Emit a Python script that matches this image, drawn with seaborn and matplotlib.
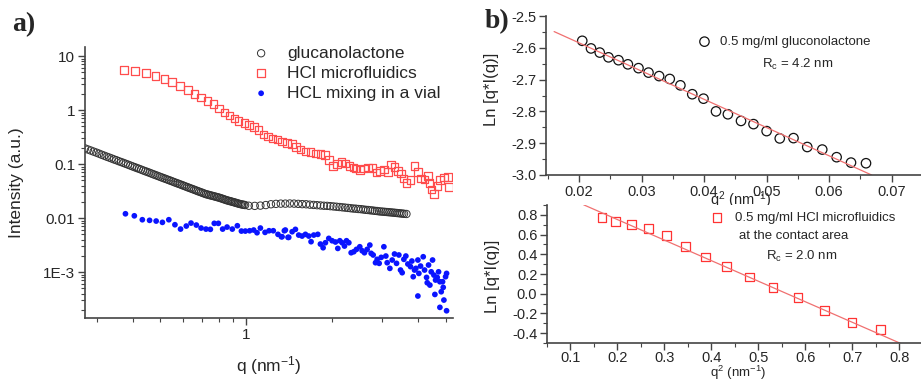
import numpy as np
import pandas as pd
import matplotlib
matplotlib.use('Agg')
import matplotlib.pyplot as plt
import seaborn as sns
from matplotlib.ticker import (FixedLocator, FixedFormatter, NullFormatter,
                               MultipleLocator, FormatStrFormatter)

# ── panel a: SAXS curves ─────────────────────────────────────
gluc_q = [0.272, 0.2785, 0.285, 0.2915, 0.298, 0.3045, 0.311, 0.3175, 0.324, 0.3305,
          0.337, 0.3435, 0.350, 0.357, 0.364, 0.371, 0.378, 0.385, 0.392, 0.399,
          0.406, 0.413, 0.420, 0.4275, 0.435, 0.4425, 0.450, 0.4575, 0.465, 0.4725,
          0.480, 0.488, 0.496, 0.504, 0.512, 0.520, 0.528, 0.536, 0.544, 0.5525,
          0.561, 0.5695, 0.578, 0.5865, 0.595, 0.6035, 0.612, 0.621, 0.630, 0.639,
          0.648, 0.657, 0.666, 0.675, 0.684, 0.6935, 0.703, 0.7125, 0.722, 0.7315,
          0.741, 0.7505, 0.760, 0.770, 0.780, 0.790, 0.800, 0.810, 0.820, 0.830,
          0.840, 0.8505, 0.861, 0.8715, 0.882, 0.8925, 0.903, 0.9135, 0.924, 0.935,
          0.946, 0.957, 0.968, 0.979, 0.990,
          1.02, 1.07, 1.12, 1.17, 1.22, 1.27, 1.32, 1.37, 1.42, 1.47, 1.52, 1.57,
          1.62, 1.67, 1.72, 1.77, 1.82, 1.87, 1.92, 1.97, 2.02, 2.07, 2.12, 2.17,
          2.22, 2.27, 2.32, 2.37, 2.42, 2.47, 2.52, 2.57, 2.62, 2.67, 2.72, 2.77,
          2.82, 2.87, 2.92, 2.97, 3.02, 3.07, 3.12, 3.17, 3.22, 3.27, 3.32, 3.37,
          3.42, 3.47, 3.52, 3.57, 3.64]
gluc_I = [0.195, 0.186, 0.178, 0.170, 0.163, 0.156, 0.149, 0.143, 0.137, 0.132,
          0.127, 0.122, 0.118, 0.113, 0.109, 0.105, 0.101, 0.0974, 0.0939, 0.0906,
          0.0875, 0.0846, 0.0818, 0.0790, 0.0762, 0.0737, 0.0713, 0.0690, 0.0667, 0.0646,
          0.0626, 0.0606, 0.0586, 0.0568, 0.0550, 0.0534, 0.0518, 0.0503, 0.0488, 0.0473,
          0.0458, 0.0445, 0.0432, 0.0420, 0.0408, 0.0396, 0.0385, 0.0374, 0.0363, 0.0353,
          0.0344, 0.0334, 0.0325, 0.0316, 0.0308, 0.0300, 0.0292, 0.0284, 0.0277, 0.0272,
          0.0267, 0.0262, 0.0258, 0.0253, 0.0249, 0.0244, 0.0240, 0.0235, 0.0230, 0.0225,
          0.0220, 0.0215, 0.0211, 0.0207, 0.0204, 0.0200, 0.0197, 0.0193, 0.0190, 0.0186,
          0.0183, 0.0180, 0.0178, 0.0176, 0.0174,
          0.0169, 0.0168, 0.0170, 0.0174, 0.0180, 0.0183, 0.0185, 0.0185, 0.0186, 0.0185,
          0.0183, 0.0181, 0.0180, 0.0177, 0.0175, 0.0173, 0.0171, 0.0169, 0.0168, 0.0166,
          0.0164, 0.0162, 0.0160, 0.0158, 0.0156, 0.0154, 0.0152, 0.0150, 0.0149, 0.0147,
          0.0146, 0.0144, 0.0142, 0.0141, 0.0139, 0.0138, 0.0136, 0.0135, 0.0133, 0.0132,
          0.0131, 0.0130, 0.0129, 0.0128, 0.0127, 0.0126, 0.0125, 0.0124, 0.0123, 0.0122,
          0.0121, 0.0120, 0.0119]

micro_q = [0.372, 0.408, 0.445, 0.480, 0.516, 0.550, 0.586, 0.624, 0.659, 0.693,
           0.730, 0.766, 0.802, 0.839, 0.874, 0.910, 0.940, 0.984, 1.024, 1.064,
           1.104, 1.147, 1.191, 1.237, 1.285, 1.334, 1.389, 1.446, 1.493, 1.546,
           1.610, 1.677, 1.746, 1.818, 1.883, 1.945, 2.009, 2.081, 2.154, 2.225,
           2.297, 2.378, 2.41, 2.50, 2.58, 2.666, 2.77, 2.86, 2.94, 3.03,
           3.13, 3.22, 3.31, 3.40, 3.49, 3.56, 3.64, 3.76, 3.88, 3.99,
           4.10, 4.21, 4.33, 4.38, 4.45, 4.54, 4.67, 4.77, 4.92, 5.09, 5.14]
micro_I = [5.57, 5.27, 4.79, 4.32, 3.75, 3.30, 2.78, 2.35, 2.00, 1.72,
           1.47, 1.28, 1.07, 0.906, 0.797, 0.702, 0.625, 0.582, 0.535, 0.491,
           0.427, 0.355, 0.321, 0.299, 0.287, 0.263, 0.248, 0.234, 0.209, 0.187,
           0.172, 0.165, 0.158, 0.153, 0.147, 0.119, 0.0918, 0.100, 0.109, 0.103,
           0.0918, 0.0869, 0.0833, 0.0774, 0.0833, 0.0869, 0.0843, 0.0702, 0.0751, 0.0797,
           0.0711, 0.0987, 0.0891, 0.0751, 0.0673, 0.0543, 0.0451, 0.0505, 0.0918, 0.0720,
           0.0543, 0.0521, 0.0600, 0.0440, 0.0340, 0.0278, 0.0392, 0.0505, 0.0567, 0.0582, 0.0380]

vial_q = [0.377, 0.405, 0.432, 0.458, 0.483, 0.508, 0.535, 0.562, 0.588, 0.616,
          0.640, 0.668, 0.694, 0.722, 0.748, 0.772, 0.798, 0.826, 0.856, 0.893,
          0.930, 0.961, 0.992, 1.027, 1.061, 1.090, 1.120, 1.163, 1.201, 1.243,
          1.291, 1.327, 1.359, 1.400,
          1.334, 1.370, 1.408, 1.447, 1.486, 1.526, 1.568, 1.611, 1.655, 1.686,
          1.723, 1.780, 1.818, 1.858, 1.893, 1.945, 1.998, 2.053, 2.092, 2.126,
          2.167, 2.208, 2.244, 2.287, 2.330, 2.380, 2.432, 2.498, 2.546, 2.594,
          2.651, 2.709, 2.738, 2.783, 2.836, 2.874, 2.921, 2.969, 3.034, 3.083,
          3.116, 3.184, 3.245, 3.306, 3.360, 3.424, 3.470, 3.517, 3.565, 3.623,
          3.682, 3.762, 3.803, 3.845, 3.886, 3.928, 3.992, 4.024, 4.079, 4.168,
          4.213, 4.282, 4.351, 4.398, 4.446, 4.494, 4.543, 4.604, 4.667, 4.717,
          4.768, 4.820, 4.872, 4.925, 4.991, 5.032, 3.992, 4.579, 4.768, 5.032,
          4.898, 4.305]
vial_I = [0.0120, 0.0110, 0.00931, 0.00907, 0.00880, 0.00832, 0.00931, 0.00752, 0.00625, 0.00711,
          0.00807, 0.00742, 0.00653, 0.00625, 0.00618, 0.00798, 0.00798, 0.00625, 0.00681, 0.00625,
          0.00720, 0.00574, 0.00574, 0.00582, 0.00600, 0.00535, 0.00653, 0.00543, 0.00582, 0.00582,
          0.00499, 0.00451, 0.00582, 0.00439,
          0.00451, 0.00600, 0.00439, 0.00558, 0.00617, 0.00484, 0.00464, 0.00499, 0.00464, 0.00365,
          0.00484, 0.00499, 0.00330, 0.00282, 0.00349, 0.00420, 0.00380, 0.00360, 0.00274, 0.00380,
          0.00349, 0.00303, 0.00380, 0.00349, 0.00228, 0.00238, 0.00263, 0.00294, 0.00248, 0.00228,
          0.00263, 0.00316, 0.00222, 0.00207, 0.00149, 0.00172, 0.00145, 0.00187, 0.00294, 0.00198,
          0.00149, 0.00117, 0.00167, 0.00216, 0.00145, 0.00207, 0.00109, 0.000973, 0.00172, 0.00198,
          0.00141, 0.00126, 0.00160, 0.000820, 0.00109, 0.00117, 0.00167, 0.000944, 0.00129, 0.00192,
          0.00109, 0.000796, 0.00135, 0.000574, 0.00101, 0.00167, 0.000879, 0.000711, 0.000796, 0.00101,
          0.000662, 0.000432, 0.000662, 0.000303, 0.000820, 0.000944, 0.000360, 0.000385, 0.000222, 0.000192,
          0.000520, 0.000634]

a_yticks = [1e-3, 1e-2, 0.1, 1, 10]
a_yticklabels = ['1E-3', '0.01', '0.1', '1', '10']

# ── panel b: Guinier (rod) plots ─────────────────────────────
gl_q2 = [0.0205, 0.0219, 0.0233, 0.0247, 0.0263, 0.0278, 0.0295, 0.0311, 0.0328, 0.0345,
         0.0362, 0.0381, 0.0399, 0.0419, 0.0438, 0.0459, 0.0479, 0.0500, 0.0521, 0.0543,
         0.0565, 0.0589, 0.0612, 0.0635, 0.0659]
gl_lnqI = [-2.578, -2.602, -2.615, -2.630, -2.639, -2.652, -2.664, -2.678, -2.689, -2.698,
           -2.718, -2.746, -2.760, -2.800, -2.809, -2.830, -2.840, -2.862, -2.885, -2.884,
           -2.912, -2.920, -2.944, -2.961, -2.963]
gl_fit_x = [0.0160, 0.0668]
gl_fit_y = [-2.549, -3.0]

hcl_q2 = [0.167, 0.196, 0.230, 0.266, 0.304, 0.345, 0.387, 0.432, 0.481, 0.531,
          0.584, 0.640, 0.699, 0.759]
hcl_lnqI = [0.776, 0.736, 0.702, 0.658, 0.587, 0.478, 0.373, 0.278, 0.169, 0.061,
            -0.037, -0.169, -0.292, -0.360]
hcl_fit_x = [0.128, 0.803]
hcl_fit_y = [0.902, -0.505]

sns.set_style("ticks")
plt.rcParams['font.family'] = ['Liberation Sans', 'DejaVu Sans']
plt.rcParams['mathtext.default'] = 'regular'
plt.rcParams['axes.unicode_minus'] = False

W, H = 921, 383
fig = plt.figure(figsize=(W / 100, H / 100), dpi=100)


def box(l, t, r, b):
    return [l / W, 1 - b / H, (r - l) / W, (b - t) / H]


ax_a = fig.add_axes(box(85, 47, 453, 318))
ax_t = fig.add_axes(box(546, 16, 921, 175))
ax_b = fig.add_axes(box(547, 205, 921, 343))

spine_col = '#444444'
for ax in (ax_a, ax_t, ax_b):
    sns.despine(ax=ax)
    for s in ('left', 'bottom'):
        ax.spines[s].set_color(spine_col)
        ax.spines[s].set_linewidth(1.2)
    ax.tick_params(which='major', direction='out', length=5, width=1,
                   color=spine_col, labelsize=10.5, pad=2)
    ax.tick_params(which='minor', direction='out', length=3, width=0.8,
                   color=spine_col)

# ── panel a ──
sns.scatterplot(x=gluc_q, y=gluc_I, ax=ax_a, marker='o', s=28,
                facecolor='none', edgecolor='#333333', linewidth=0.7,
                label='glucanolactone')
sns.scatterplot(x=micro_q, y=micro_I, ax=ax_a, marker='s', s=30,
                facecolor='none', edgecolor='#ff4c4c', linewidth=0.9,
                label='HCl microfluidics')
sns.scatterplot(x=vial_q, y=vial_I, ax=ax_a, marker='o', s=17,
                color='#0a14ff', edgecolor='none', linewidth=0,
                label='HCL mixing in a vial')
ax_a.set_xscale('log')
ax_a.set_yscale('log')
ax_a.set_xlim(0.272, 5.3)
ax_a.set_ylim(1.41e-4, 14.7)
ax_a.yaxis.set_major_locator(FixedLocator(a_yticks))
ax_a.yaxis.set_major_formatter(FixedFormatter(a_yticklabels))
ax_a.yaxis.set_minor_locator(FixedLocator(
    [m * 10.0 ** e for e in range(-4, 2) for m in range(2, 10)]))
ax_a.yaxis.set_minor_formatter(NullFormatter())
ax_a.xaxis.set_major_locator(FixedLocator([1]))
ax_a.xaxis.set_major_formatter(FixedFormatter(['1']))
ax_a.xaxis.set_minor_locator(FixedLocator([0.3, 0.4, 0.5, 0.6, 0.7, 0.8, 0.9, 2, 3, 4, 5]))
ax_a.xaxis.set_minor_formatter(NullFormatter())
ax_a.tick_params(axis='both', labelsize=11)
ax_a.set_xlabel('q (nm$^{-1}$)', fontsize=12.5, labelpad=9)
ax_a.set_ylabel('Intensity (a.u.)', fontsize=12.5, labelpad=14)
ax_a.legend(loc='upper left', bbox_to_anchor=(0.455, 1.005), frameon=False,
            fontsize=12.5, handlelength=1.0, handletextpad=1.0,
            labelspacing=0.28, borderpad=0, borderaxespad=0)

# ── panel b top ──
sns.lineplot(x=gl_fit_x, y=gl_fit_y, ax=ax_t, color='#f07070', linewidth=0.9)
sns.scatterplot(x=gl_q2, y=gl_lnqI, ax=ax_t, marker='o', s=46,
                facecolor='none', edgecolor='#111111', linewidth=0.9,
                label='0.5 mg/ml gluconolactone')
ax_t.set_xlim(0.0147, 0.0747)
ax_t.set_ylim(-3.0, -2.5)
ax_t.xaxis.set_major_locator(MultipleLocator(0.01))
ax_t.xaxis.set_minor_locator(MultipleLocator(0.005))
ax_t.xaxis.set_major_formatter(FormatStrFormatter('%.2f'))
ax_t.yaxis.set_major_locator(MultipleLocator(0.1))
ax_t.yaxis.set_minor_locator(MultipleLocator(0.05))
ax_t.yaxis.set_major_formatter(FormatStrFormatter('%.1f'))
ax_t.set_xlabel('q$^2$ (nm$^{-1}$)', fontsize=10.5)
ax_t.xaxis.set_label_coords(0.52, -0.09)
ax_t.set_ylabel('Ln [q*I(q)]', fontsize=12)
ax_t.yaxis.set_label_coords(-0.125, 0.54)
ax_t.legend(loc='upper left', bbox_to_anchor=(0.405, 0.875), frameon=False,
            fontsize=9.5, handlelength=1.0, handletextpad=0.7,
            borderpad=0, borderaxespad=0)
ax_t.text(0.576, 0.698, 'R$_c$ = 4.2 nm', transform=ax_t.transAxes,
          fontsize=9.5, va='center', ha='left')

# ── panel b bottom ──
sns.lineplot(x=hcl_fit_x, y=hcl_fit_y, ax=ax_b, color='#f07070', linewidth=0.9)
sns.scatterplot(x=hcl_q2, y=hcl_lnqI, ax=ax_b, marker='s', s=40,
                facecolor='none', edgecolor='#ff3333', linewidth=0.9,
                label='0.5 mg/ml HCl microfluidics')
ax_b.set_xlim(0.05, 0.846)
ax_b.set_ylim(-0.5, 0.9)
ax_b.xaxis.set_major_locator(MultipleLocator(0.1))
ax_b.xaxis.set_minor_locator(MultipleLocator(0.05))
ax_b.xaxis.set_major_formatter(FormatStrFormatter('%.1f'))
ax_b.yaxis.set_major_locator(MultipleLocator(0.2))
ax_b.yaxis.set_minor_locator(MultipleLocator(0.1))
ax_b.yaxis.set_major_formatter(FormatStrFormatter('%.1f'))
ax_b.tick_params(axis='x', pad=1)
ax_b.set_xlabel('q$^2$ (nm$^{-1}$)', fontsize=9.5)
ax_b.xaxis.set_label_coords(0.51, -0.148)
ax_b.set_ylabel('Ln [q*I(q)]', fontsize=12)
ax_b.yaxis.set_label_coords(-0.125, 0.48)
ax_b.legend(loc='upper left', bbox_to_anchor=(0.437, 0.95), frameon=False,
            fontsize=9.5, handlelength=1.0, handletextpad=0.86,
            borderpad=0, borderaxespad=0)
ax_b.text(0.513, 0.775, 'at the contact area', transform=ax_b.transAxes,
          fontsize=9.5, va='center', ha='left')
ax_b.text(0.586, 0.630, 'R$_c$ = 2.0 nm', transform=ax_b.transAxes,
          fontsize=9.5, va='center', ha='left')

# panel letters
fig.text(12 / W, 1 - 25 / H, 'a)', fontsize=20, fontweight='bold',
         family='Liberation Serif', va='center', ha='left')
fig.text(485 / W, 1 - 22 / H, 'b)', fontsize=20, fontweight='bold',
         family='Liberation Serif', va='center', ha='left')

fig.savefig('out.png', dpi=100)
